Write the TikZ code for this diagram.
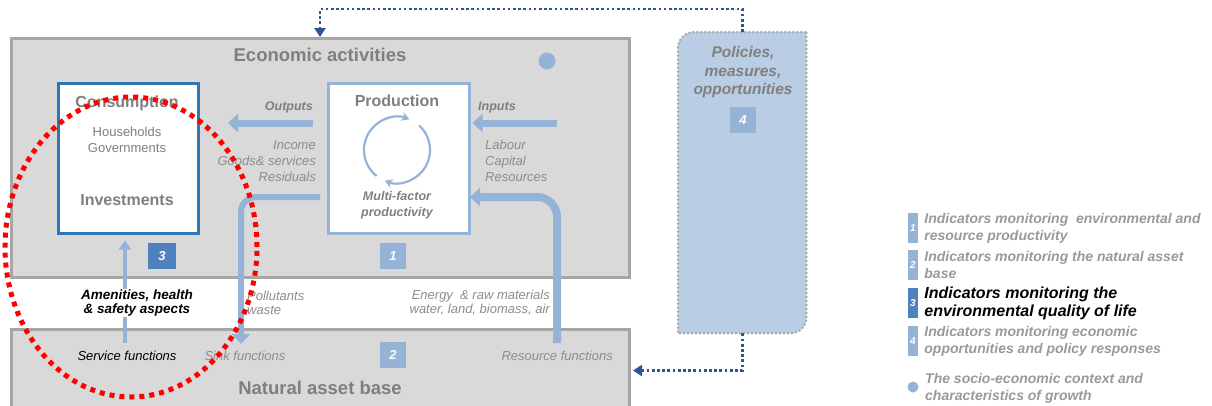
\documentclass[tikz,border=0pt]{standalone}
\usepackage{fontspec}
\setmainfont{Liberation Sans}
\usetikzlibrary{arrows.meta, positioning, calc}

\definecolor{boxgray}{HTML}{D9D9D9}
\definecolor{linegray}{HTML}{A6A6A6}
\definecolor{txtgray}{HTML}{7F7F7F}
\definecolor{lblgray}{HTML}{8C8C8C}
\definecolor{keygray}{HTML}{999999}
\definecolor{arrblue}{HTML}{95B3D7}
\definecolor{polblue}{HTML}{B9CDE5}
\definecolor{numdark}{HTML}{4F81BD}
\definecolor{consblue}{HTML}{2E75B6}
\definecolor{dotblue}{HTML}{2F5597}

\newcommand{\pxfont}[2]{\fontsize{#1}{#2}\selectfont}

\begin{document}
\begin{tikzpicture}[
    x=1pt, y=-1pt, >=Stealth,
    head/.style={font=\bfseries\pxfont{16}{19}, text=txtgray, inner sep=0},
    lbl/.style={font=\itshape\pxfont{13}{14}, text=lblgray, inner sep=0},
    numbox/.style={fill=arrblue, minimum width=26, minimum height=26,
                   inner sep=0, text=white, font=\bfseries\itshape\pxfont{13}{15}},
    flow/.style={arrblue, line width=7pt, -{Triangle[length=10pt, width=18pt]}},
    cycarrow/.style={arrblue, line width=2.2pt, -{Stealth[length=8pt, width=9pt]}},
    policyflow/.style={dotblue, line width=2.7pt, dash pattern=on 2.7pt off 2.5pt,
                       -{Triangle[length=9pt, width=11pt]}},
    keybox/.style={fill=arrblue, minimum width=10, minimum height=30, inner sep=0,
                   text=white, font=\bfseries\itshape\pxfont{10}{12}},
    keytext/.style={font=\bfseries\itshape\pxfont{14}{17}, text=keygray,
                    align=left, inner sep=0}
  ]
  \useasboundingbox (0,0) rectangle (1212,405);

  % the two gray blocks
  \node[draw=linegray, line width=3pt, fill=boxgray, minimum width=618,
        minimum height=239, anchor=north west, inner sep=0] (econ) at (10,37) {};
  \node[draw=linegray, line width=3pt, fill=boxgray, minimum width=618,
        minimum height=82, anchor=north west, inner sep=0] (nat) at (10,328) {};
  \node[head, font=\bfseries\pxfont{18.5}{22}] (econhead) at (320,55) {Economic activities};
  \node[head, font=\bfseries\pxfont{18.5}{22}] (nathead) at (320,388) {Natural asset base};
  \node[circle, fill=arrblue, minimum size=17, inner sep=0] (ctxdot) at (547,61) {};

  % consumption
  \node[draw=consblue, line width=2.5pt, fill=white, minimum width=140,
        minimum height=150, anchor=north west, inner sep=0] (cons) at (57,82) {};
  \node[head] (conshead) at (127,103) {Consumption};
  \node[font=\pxfont{13}{16}, text=txtgray, align=center, inner sep=0]
    (conslist) at (127,140) {Households\\Governments};
  \node[head] (invhead) at (127,200) {Investments};

  % production
  \node[draw=arrblue, line width=2.5pt, fill=white, minimum width=141,
        minimum height=150, anchor=north west, inner sep=0] (prod) at (327,82) {};
  \node[head] (prodhead) at (397,101) {Production};
  \coordinate (cyc) at (397,150);
  \draw[cycarrow] ($(cyc)+(232:33pt)$) arc[start angle=232, end angle=68, radius=33pt];
  \draw[cycarrow] ($(cyc)+(48:33pt)$) arc[start angle=48, end angle=-112, radius=33pt];
  \node[font=\bfseries\itshape\pxfont{12.5}{16}, text=txtgray, align=center,
        inner sep=0] (mfp) at (397,205) {Multi-factor\\productivity};

  \node[numbox, fill=numdark, minimum width=28] (num3) at (162,256) {3};
  \node[numbox] (num1) at (393,256) {1};
  \node[numbox] (num2) at (393,355) {2};

  % outputs and inputs
  \coordinate (outtail) at (313,123);
  \coordinate (outhead) at (228,123);
  \coordinate (intail) at (557,123);
  \draw[flow] (outtail) -- (outhead);
  \draw[flow] (intail) -- ([xshift=2pt]prod.east |- intail);
  \node[font=\bfseries\itshape\pxfont{12.5}{15}, text=txtgray, anchor=east,
        inner sep=0] (outlbl) at (313,107) {Outputs};
  \node[font=\bfseries\itshape\pxfont{12.5}{15}, text=txtgray, anchor=west,
        inner sep=0] (inlbl) at (478,107) {Inputs};
  \node[lbl, font=\itshape\pxfont{13}{16}, anchor=east, align=right]
    (outlist) at (316,161) {Income\\Goods\& services\\Residuals};
  \node[lbl, font=\itshape\pxfont{13}{16}, anchor=west, align=left]
    (inlist) at (485,161) {Labour\\Capital\\Resources};

  % sink and resource flows
  \coordinate (polltail) at (320,197);
  \coordinate (sinkend) at (241,344);
  \coordinate (restail) at (557,343);
  \coordinate (resin) at (470,197);
  \draw[flow, line width=6pt, rounded corners=15pt] (polltail) -| (sinkend);
  \draw[flow, line width=8pt, rounded corners=20pt] (restail) |- (resin);

  % service flow
  \coordinate (svctail) at (125,343);
  \draw[arrblue, line width=3.5pt, -{Triangle[length=9pt, width=12pt]}]
    (svctail) -- ([yshift=-6pt]cons.south -| svctail);
  \node[font=\bfseries\itshape\pxfont{13.5}{14}, fill=white, align=center,
        inner sep=1pt] (amen) at (137,303) {Amenities, health\\\& safety aspects};
  \node[lbl, anchor=west, align=left] (poll) at (247,303) {Pollutants\\waste};
  \node[lbl, anchor=east, align=right] (energy) at (550,303)
    {Energy~ \& raw materials\\water, land, biomass, air};
  \node[lbl, text=black] (svc) at (127,356) {Service functions};
  \node[lbl] (sink) at (245,356) {Sink functions};
  \node[lbl, anchor=east] (resfun) at (613,356) {Resource functions};

  % policies
  \node[minimum width=128, minimum height=301, anchor=north west,
        inner sep=0] (policy) at (678,32) {};
  \draw[linegray, fill=polblue, line width=2pt, dash pattern=on 2pt off 2pt]
    (policy.north east) -- ([xshift=16pt]policy.north west)
    arc[start angle=90, end angle=180, radius=16pt]
    -- (policy.south west) -- ([xshift=-16pt]policy.south east)
    arc[start angle=270, end angle=360, radius=16pt] -- cycle;
  \node[font=\bfseries\itshape\pxfont{15.5}{18.5}, text=txtgray, align=center,
        inner sep=0] (poltext) at (743,72) {Policies,\\measures,\\opportunities};
  \node[numbox] (num4) at (743,120) {4};

  \coordinate (topbend) at (320,9);
  \draw[policyflow] (policy.north) |- (topbend) -- (topbend |- econ.north);
  \draw[policyflow] (policy.south) |- ([xshift=2pt]nat.east);

  % focus on quality of life
  \coordinate (focus) at (131,247);
  \draw[red, line width=5pt, dash pattern=on 5pt off 5pt]
    (focus) ellipse [x radius=126pt, y radius=150pt];

  % legend
  \node[keybox] (key1) at (913,228) {1};
  \node[keytext, right=6pt of key1] (key1txt)
    {Indicators monitoring~ environmental and\\resource productivity};
  \node[keybox] (key2) at (913,265) {2};
  \node[keytext, right=6pt of key2] (key2txt)
    {Indicators monitoring the natural asset\\base};
  \node[keybox, fill=numdark] (key3) at (913,303) {3};
  \node[keytext, font=\bfseries\itshape\pxfont{16}{18}, text=black,
        right=6pt of key3] (key3txt)
    {Indicators monitoring the\\environmental quality of life};
  \node[keybox] (key4) at (913,341) {4};
  \node[keytext, right=6pt of key4] (key4txt)
    {Indicators monitoring economic\\opportunities and policy responses};
  \node[circle, fill=arrblue, minimum size=11, inner sep=0] (keydot) at (913,387) {};
  \node[keytext, anchor=west] (keydottxt) at (925,388)
    {The socio-economic context and\\characteristics of growth};
\end{tikzpicture}
\end{document}
